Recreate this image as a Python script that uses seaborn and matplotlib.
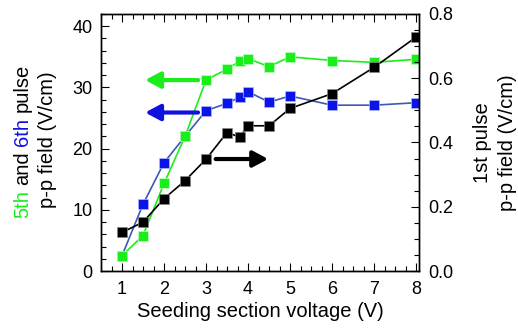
import matplotlib
matplotlib.use("Agg")
import matplotlib.pyplot as plt
import seaborn as sns
from matplotlib.ticker import MultipleLocator, FormatStrFormatter

# Data
voltage = [1, 1.5, 2, 2.5, 3, 3.5, 3.8, 4, 4.5, 5, 6, 7, 8]
field_5th = [2.5, 5.8, 14.3, 22.0, 31.2, 33.0, 34.3, 34.7, 33.4, 35.0, 34.4, 34.1, 34.6]
field_6th = [2.5, 10.9, 17.7, 22.0, 26.2, 27.4, 28.4, 29.3, 27.6, 28.6, 27.1, 27.1, 27.5]
field_1st = [0.120, 0.152, 0.225, 0.281, 0.348, 0.431, 0.417, 0.452, 0.452, 0.506, 0.552, 0.634, 0.728]

GREEN = '#1aee1a'
BLUE_MK = '#0a14e6'
BLUE_LN = '#3c5ab4'
BLUE_TXT = '#1010e0'

sns.set_style('ticks')
plt.rcParams['font.family'] = ['Liberation Sans', 'DejaVu Sans']
plt.rcParams['axes.linewidth'] = 1.0
for key in ['text.color', 'axes.edgecolor', 'axes.labelcolor', 'xtick.color', 'ytick.color']:
    plt.rcParams[key] = 'black'

W, H = 518, 328
fig = plt.figure(figsize=(W / 100, H / 100), dpi=100)
ax = fig.add_axes([101 / W, 1 - 271 / H, 318 / W, 257 / H])
ax2 = ax.twinx()

sns.lineplot(x=voltage, y=field_6th, ax=ax, color=BLUE_LN, linewidth=1.2,
             marker='s', markersize=6.5, markerfacecolor=BLUE_MK,
             markeredgecolor='#b0b8ff', markeredgewidth=0.5)
sns.lineplot(x=voltage, y=field_5th, ax=ax, color=GREEN, linewidth=1.2,
             marker='s', markersize=6.5, markerfacecolor=GREEN,
             markeredgecolor='#c0ffc0', markeredgewidth=0.5)
sns.lineplot(x=voltage, y=field_1st, ax=ax2, color='black', linewidth=1.2,
             marker='s', markersize=6.5, markerfacecolor='black',
             markeredgecolor='#888888', markeredgewidth=0.5)


def arrow(x0, x1, y, color):
    ax.annotate('', xy=(x1, y), xytext=(x0, y),
                arrowprops=dict(arrowstyle='-|>,head_length=0.6,head_width=0.32',
                                lw=3, color=color, mutation_scale=15,
                                shrinkA=0, shrinkB=0))


arrow(2.81, 1.55, 31.2, GREEN)
arrow(2.81, 1.55, 25.9, BLUE_TXT)
arrow(3.23, 4.48, 18.3, 'black')

ax.set_xlim(0.5, 8.07)
ax.set_ylim(0, 42)
ax2.set_ylim(0, 0.8)

ax.xaxis.set_major_locator(MultipleLocator(1))
ax.xaxis.set_minor_locator(MultipleLocator(0.25))
ax.yaxis.set_major_locator(MultipleLocator(10))
ax.yaxis.set_minor_locator(MultipleLocator(2))
ax2.yaxis.set_major_locator(MultipleLocator(0.2))
ax2.yaxis.set_minor_locator(MultipleLocator(0.05))
ax2.yaxis.set_major_formatter(FormatStrFormatter('%.1f'))

TICK_FS = 13
ax.tick_params(axis='x', which='both', direction='in', top=True, labelsize=TICK_FS, pad=7)
ax.tick_params(axis='y', which='both', direction='in', right=False, labelsize=TICK_FS, pad=6)
ax2.tick_params(axis='y', which='both', direction='in', labelsize=TICK_FS, pad=7)
for a in (ax, ax2):
    a.tick_params(which='major', length=6, width=0.8)
    a.tick_params(which='minor', length=3.5, width=0.8)
    a.set_xlabel('')
    a.set_ylabel('')

LABEL_FS = 14.5
fig.text(260 / W, 11 / H, 'Seeding section voltage (V)', fontsize=LABEL_FS,
         ha='center', va='baseline')

# right axis label
for txt, bx in [('1st pulse', 488), ('p-p field (V/cm)', 513)]:
    fig.text(bx / W, 1 - 143 / H, txt, fontsize=LABEL_FS, rotation=90,
             rotation_mode='anchor', ha='center', va='baseline')

# left axis label, second line
fig.text(53 / W, 1 - 140 / H, 'p-p field (V/cm)', fontsize=LABEL_FS, rotation=90,
         rotation_mode='anchor', ha='center', va='baseline')

# left axis label, first line with coloured words
renderer = fig.canvas.get_renderer()


def text_width(s):
    t = fig.text(0, 0, s, fontsize=LABEL_FS)
    w = t.get_window_extent(renderer).width
    t.remove()
    return w


pieces = [('5th', GREEN), (' and', 'black'), (' 6th', BLUE_TXT), (' pulse', 'black')]
full = ''.join(p for p, _ in pieces)
y_start = (H - 141) - text_width(full) / 2
bar_w = text_width('|')
prefix = ''
for txt, col in pieces:
    # offset of the first visible character of this piece
    off = text_width(prefix + ' |') - bar_w if prefix else 0
    fig.text(28 / W, (y_start + off) / H, txt.strip(), fontsize=LABEL_FS,
             rotation=90, rotation_mode='anchor', ha='left', va='baseline', color=col)
    prefix += txt

fig.savefig('out.png', dpi=100)
